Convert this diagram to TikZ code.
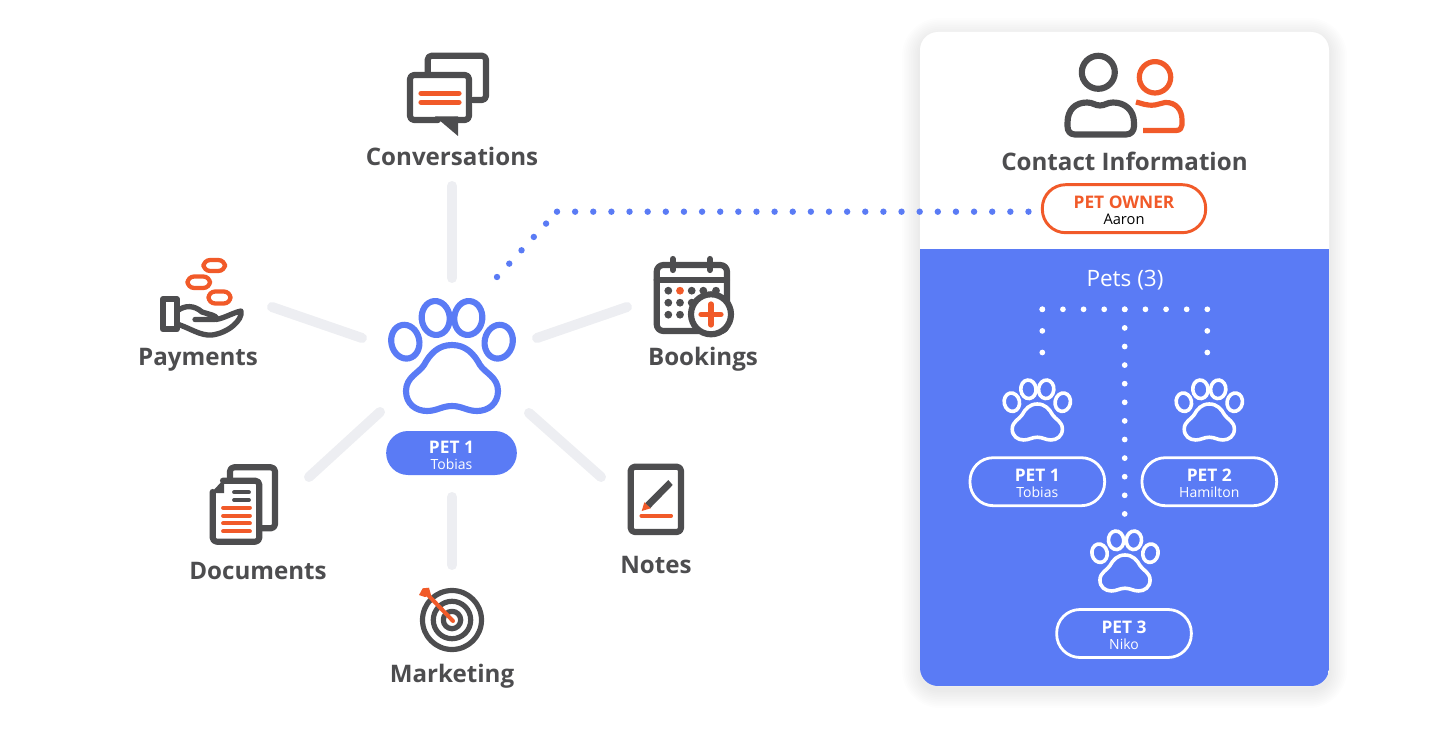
\documentclass[tikz,border=0pt]{standalone}
\usepackage{fontspec}
\setmainfont{Open Sans}
\usetikzlibrary{calc}
\definecolor{petblue}{HTML}{5A7BF5}
\definecolor{petorange}{HTML}{F15A29}
\definecolor{inkgray}{HTML}{4D4D4F}
\definecolor{spokegray}{HTML}{EDEEF2}
\newcommand{\pillname}[2]{{\fontsize{13}{12.75}\selectfont\bfseries\rule{0pt}{13pt}#1}\\{\fontsize{10.5}{12.75}\selectfont #2\rule[-1pt]{0pt}{1pt}}}
\tikzset{
  label/.style={font=\fontsize{18.1}{20}\selectfont\bfseries, text=inkgray, anchor=base, inner sep=0pt},
  pill/.style={rounded corners=17.5pt, minimum width=#1, minimum height=36pt, inner sep=0pt, align=center},
  spoke/.style={spokegray, line width=7.5pt, line cap=round},
  ink/.style={draw=inkgray, line width=4.6pt, line join=round, line cap=round},
  hot/.style={draw=petorange, line width=3.9pt, line join=round, line cap=round},
  bluedots/.style={petblue, line width=4.8pt, line cap=round, dash pattern=on 0pt off 13.6pt},
  whitedots/.style={white, line width=4.3pt, line cap=round},
  pawicon/.pic={
    \draw (-46.7,-3.3) ellipse[x radius=14, y radius=17, rotate=12];
    \draw (46.7,-3.3) ellipse[x radius=14, y radius=17, rotate=-12];
    \draw (-16.3,-27) ellipse[x radius=14, y radius=17, rotate=6];
    \draw (16.3,-27) ellipse[x radius=14, y radius=17, rotate=-6];
    \draw (0,0) .. controls (14,0) and (22,9) .. (28,20) .. controls (33,28) and (46,32) .. (46,46)
      .. controls (46,59) and (36,66) .. (25,66) .. controls (15,66) and (10,61) .. (0,61)
      .. controls (-10,61) and (-15,66) .. (-25,66) .. controls (-36,66) and (-46,59) .. (-46,46)
      .. controls (-46,32) and (-33,28) .. (-28,20) .. controls (-22,9) and (-14,0) .. (0,0) -- cycle;
  }
}
\begin{document}
\begin{tikzpicture}[x=0.75pt, y=-0.75pt]
  \useasboundingbox (0,0) rectangle (1451,752);
  % Card shadow
  \foreach \i in {1,...,10} {
    \fill[black, opacity=0.009, rounded corners=13.5pt+\i*1.5pt] (920-\i*1.8,32-\i*1.8+4) rectangle (1329+\i*1.8,686+\i*1.8+4);
  }
  % Card
  \fill[white, rounded corners=13.5pt] (920,32) rectangle (1329,686);
  \begin{scope}
    \clip[rounded corners=13.5pt] (920,32) rectangle (1329,686);
    \fill[petblue] (920,249) rectangle (1329,686);
  \end{scope}
  %%%%%%%%%%%%%%%% Spokes
  \foreach \xa/\ya/\xb/\yb in {452/186/452/278, 272/307/362/338, 537/338/627/307, 380/412/309/477, 529/413/601/477, 452/497/452/565} {
    \draw[spoke] (\xa,\ya) -- (\xb,\yb);
  }
  %%%%%%%%%%%%%%%% Big paw
  \pic[draw=petblue, line width=4.6pt] at (452,345) {pawicon};
  \node[pill=98pt, fill=petblue, text=white, minimum height=33pt, rounded corners=16.4pt] (petmain) at (451.5,453) {\pillname{PET 1}{Tobias}};
  %%%%%%%%%%%%%%%% Conversations
  \draw[ink] (427.7,72) -- (427.7,60) [rounded corners=3pt] -- (427.7,55.7) -- (486,55.7) -- (486,100) -- (473,100);
  \draw[ink, rounded corners=3pt] (438,120) -- (410,120) -- (410,75) -- (469,75) -- (469,120) -- (454.5,120);
  \fill[inkgray] (435,116.5) -- (458,116.5) -- (458,136) -- cycle;
  \foreach \y in {93.3,102.3} {
    \draw[hot] (421,\y) -- (459,\y);
  }
  \node[label] (conversations) at (452,166) {Conversations};
  %%%%%%%%%%%%%%%% Payments
  \draw[hot, line width=3.2pt, rounded corners=5pt] (203.5,260) rectangle (225,271);
  \draw[hot, line width=3.2pt, rounded corners=5pt] (187.5,276.5) rectangle (210,288);
  \draw[hot, line width=3.2pt, rounded corners=5pt] (208.5,291.5) rectangle (230.5,303.5);
  \draw[ink] (163,299) rectangle (176.7,329.3);
  \draw[ink, line width=4pt] (177,311) .. controls (185,305) and (194,305) .. (202,312) -- (212,315) .. controls (217,316.5) and (218,319.5) .. (214,319.5) -- (195,319.5);
  \draw[ink, line width=4pt] (216,319.5) .. controls (225,318) and (232,313) .. (241,311) .. controls (243,320) and (228,333) .. (212,335) .. controls (200,336) and (190,328) .. (177,324);
  \node[label] (payments) at (198,365) {Payments};
  %%%%%%%%%%%%%%%% Bookings
  \draw[ink, rounded corners=5pt] (656.7,265) rectangle (727,331);
  \draw[ink] (656.7,280) -- (727,280);
  \foreach \x in {672.7,710} {
    \draw[ink] (\x,259) -- (\x,270);
  }
  \foreach \x/\y in {668.3/290.7, 691.7/290.7, 703.3/290.7, 716/290.7, 668.3/302.7, 680/302.7, 691.7/302.7, 668.3/314.7, 680/314.7} {
    \fill[inkgray] (\x,\y) circle (3.9);
  }
  \fill[petorange] (680,290.7) circle (3.9);
  \draw[ink, fill=white] (711,314.3) circle (20);
  \draw[hot] (701,314.3) -- (721,314.3);
  \draw[hot] (711,304) -- (711,325);
  \node[label] (bookings) at (703,365) {Bookings};
  %%%%%%%%%%%%%%%% Documents
  \draw[ink, rounded corners=3pt] (230,478) -- (230,467.3) -- (275,467.3) -- (275,528.3) -- (262,528.3);
  \draw[ink, rounded corners=3pt] (223,480.7) -- (259.3,480.7) -- (259.3,541.7) -- (212.7,541.7) -- (212.7,492);
  \fill[inkgray] (211,493) -- (224,479) -- (224,493) -- cycle;
  \foreach \y in {492.3,500} {
    \draw[ink, line width=2.8pt] (234,\y) -- (249,\y);
  }
  \foreach \y in {507.7,515.7,523.3,531.3} {
    \draw[hot, line width=2.8pt] (223,\y) -- (250,\y);
  }
  \node[label] (documents) at (258,579) {Documents};
  %%%%%%%%%%%%%%%% Notes
  \draw[ink, rounded corners=3pt] (630.7,466.7) rectangle (681,532);
  \fill[inkgray] (645,503.3) -- (668.3,480) -- (672.7,485) -- (650,508.3) -- cycle;
  \fill[petorange] (641.7,511) -- (644.3,502.3) -- (650.7,508.3) -- cycle;
  \draw[hot, line width=3.1pt] (641.5,515.7) -- (671,515.7);
  \node[label] (notes) at (656,573) {Notes};
  %%%%%%%%%%%%%%%% Marketing
  \foreach \r in {29.5,18.7,8.7} {
    \draw[ink, line width=3.9pt] (452,620) circle (\r);
  }
  \draw[hot, line width=3pt] (453,621) -- (428,595);
  \fill[petorange] (419,595) -- (422.7,588.3) -- (429,587.7) -- (431,595) -- (425,597) -- cycle;
  \node[label] (marketing) at (452,682) {Marketing};
  %%%%%%%%%%%%%%%% Contact Information
  \draw[ink] (1098.3,72.3) circle (16.5);
  \draw[ink] (1075,134.5) -- (1126,134.5) .. controls (1131,134.5) and (1134,131) .. (1134,126) -- (1134,123)
    .. controls (1134,110) and (1125,102.5) .. (1113,102.5) .. controls (1107,102.5) and (1105,105.5) .. (1100,105.5)
    .. controls (1095,105.5) and (1093,102.5) .. (1087,102.5) .. controls (1075,102.5) and (1067.5,110) .. (1067.5,123)
    -- (1067.5,126) .. controls (1067.5,131) and (1070,134.5) .. (1075,134.5) -- cycle;
  \draw[hot] (1155,77.3) circle (15.7);
  \draw[hot, line cap=butt] (1136,102) .. controls (1141,103) and (1146,106) .. (1155,105) -- (1165,102.5)
    .. controls (1176,102) and (1182,110) .. (1182,120) -- (1182,125) .. controls (1182,128) and (1180,130.5) .. (1176,130.5) -- (1143,130.5);
  \node[label] (contact) at (1124.5,171) {Contact Information};
  \node[pill=122.5pt, draw=petorange, line width=2.2pt, text=black] (owner) at (1124,208.7) {{\fontsize{13}{12.75}\selectfont\bfseries\color{petorange}\rule{0pt}{13pt}PET OWNER}\\{\fontsize{11}{12.75}\selectfont Aaron\rule[-1pt]{0pt}{1pt}}};
  %%%%%%%%%%%%%%%% Dotted link to the owner
  \coordinate (linkstart) at (497,277);
  \coordinate (linkbend) at (557,211.7);
  \draw[bluedots] (linkstart) -- (linkbend);
  \draw[bluedots] (linkbend) -- ($(owner.west)+(-10,3)$);
  %%%%%%%%%%%%%%%% Pets
  \node[font=\fontsize{16.9}{20}\selectfont, text=white, inner sep=0pt] (pets) at (1125,280) {Pets (3)};
  \coordinate (treeleft) at (1042.3,309.3);
  \coordinate (treeright) at (1207.3,309.3);
  \coordinate (treemid) at (1124.7,309.3);
  \draw[whitedots, dash pattern=on 0pt off 15.47pt] (treeleft) -- (treeright);
  \draw[whitedots, dash pattern=on 0pt off 16.2pt] (treeleft) -- +(0,44);
  \draw[whitedots, dash pattern=on 0pt off 16.2pt] (treeright) -- +(0,44);
  \draw[whitedots, dash pattern=on 0pt off 13.95pt] (treemid) -- +(0,205);
  %%%%%%%%%%%%%%%% Pet paws and pills
  \foreach \x/\y in {1037.3/404, 1209.3/404, 1125/555} {
    \pic[draw=white, line width=2.7pt, scale=0.545] at (\x,\y) {pawicon};
  }
  \node[pill=101pt, draw=white, line width=2.1pt, text=white] (petone) at (1037.3,481.7) {\pillname{PET 1}{Tobias}};
  \node[pill=101pt, draw=white, line width=2.1pt, text=white] (pettwo) at (1209.3,481.7) {\pillname{PET 2}{Hamilton}};
  \node[pill=101pt, draw=white, line width=2.1pt, text=white] (petthree) at (1124,633.5) {\pillname{PET 3}{Niko}};
\end{tikzpicture}
\end{document}
